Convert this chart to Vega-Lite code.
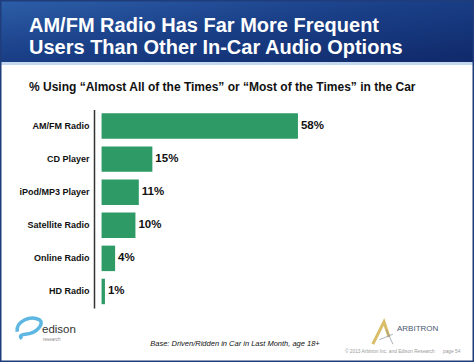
{
  "$schema": "https://vega.github.io/schema/vega-lite/v6.json",
  "width": 474,
  "height": 362,
  "autosize": {"type": "none"},
  "padding": 0,
  "background": "white",
  "config": {"view": {"stroke": null}, "font": "Liberation Sans"},
  "title": {
    "text": ["AM/FM Radio Has Far More Frequent", "Users Than Other In-Car Audio Options"],
    "subtitle": "% Using “Almost All of the Times” or “Most of the Times” in the Car",
    "anchor": "start",
    "frame": "group",
    "orient": "top",
    "offset": -94,
    "dx": 29,
    "font": "Liberation Sans",
    "fontSize": 20,
    "fontWeight": "bold",
    "color": "white",
    "lineHeight": 21.5,
    "subtitleFont": "Liberation Sans",
    "subtitleFontSize": 12,
    "subtitleFontWeight": "bold",
    "subtitleColor": "#111111",
    "subtitlePadding": 24
  },
  "datasets": {
    "usage": [
      {"option": "AM/FM Radio", "share": 0.58},
      {"option": "CD Player", "share": 0.15},
      {"option": "iPod/MP3 Player", "share": 0.11},
      {"option": "Satellite Radio", "share": 0.10},
      {"option": "Online Radio", "share": 0.04},
      {"option": "HD Radio", "share": 0.01}
    ],
    "one": [{"k": 1}]
  },
  "layer": [
    {
      "data": {"name": "one"},
      "mark": {"type": "rect", "color": {"gradient": "linear", "x1": 0, "y1": 0, "x2": 1, "y2": 1, "stops": [{"offset": 0, "color": "#2d5ea8"}, {"offset": 0.45, "color": "#1a4088"}, {"offset": 1, "color": "#10296a"}]}},
      "encoding": {"x": {"value": 0}, "x2": {"value": "width"}, "y": {"value": 0}, "y2": {"value": 62}}
    },
    {
      "data": {"name": "one"},
      "mark": {"type": "rect", "color": "#c3d7ef"},
      "encoding": {"x": {"value": 0}, "x2": {"value": "width"}, "y": {"value": 62}, "y2": {"value": 65}}
    },
    {
      "data": {"name": "one"},
      "mark": {"type": "rect", "fill": null, "filled": false, "stroke": "#1f3d7a", "strokeWidth": 3},
      "encoding": {"x": {"value": 0}, "x2": {"value": "width"}, "y": {"value": 0}, "y2": {"value": "height"}}
    },
    {
      "data": {"name": "usage"},
      "mark": {"type": "bar", "color": "#2e9a66"},
      "encoding": {
        "y": {
          "field": "option", "type": "nominal", "sort": null,
          "scale": {"range": [109.5, 308], "paddingInner": 0.23, "paddingOuter": 0.115},
          "axis": {"orient": "left", "offset": -94, "title": null, "ticks": false, "domainColor": "#333333", "domainWidth": 1.5, "labelFont": "Liberation Sans", "labelFontWeight": "bold", "labelFontSize": 9, "labelColor": "#111111", "labelPadding": 5}
        },
        "x": {"field": "share", "type": "quantitative", "scale": {"domain": [-0.2712, 1.0964]}, "axis": null},
        "x2": {"datum": 0}
      }
    },
    {
      "data": {"name": "usage"},
      "mark": {"type": "text", "align": "left", "baseline": "middle", "dx": 3, "font": "Liberation Sans", "fontWeight": "bold", "fontSize": 11.5, "color": "#111111"},
      "encoding": {
        "y": {"field": "option", "type": "nominal", "sort": null},
        "x": {"field": "share", "type": "quantitative"},
        "text": {"field": "share", "type": "quantitative", "format": ".0%"}
      }
    },
    {
      "data": {"name": "one"},
      "mark": {"type": "text", "text": "Base: Driven/Ridden in Car in Last Month, age 18+", "align": "center", "baseline": "middle", "font": "Liberation Sans", "fontStyle": "italic", "fontSize": 7.5, "color": "#111111"},
      "encoding": {"x": {"value": 235}, "y": {"value": 344}}
    },
    {
      "data": {"name": "one"},
      "mark": {"type": "text", "text": "© 2013 Arbitron Inc. and Edison Research", "align": "left", "baseline": "middle", "font": "Liberation Sans", "fontSize": 4.8, "color": "#9a9a9a"},
      "encoding": {"x": {"value": 345}, "y": {"value": 352}}
    },
    {
      "data": {"name": "one"},
      "mark": {"type": "text", "text": "page 54", "align": "left", "baseline": "middle", "font": "Liberation Sans", "fontSize": 4.8, "color": "#9a9a9a"},
      "encoding": {"x": {"value": 443}, "y": {"value": 352}}
    },
    {
      "data": {"name": "one"},
      "mark": {"type": "text", "text": "edison", "align": "left", "baseline": "alphabetic", "font": "Liberation Sans", "fontSize": 11.5, "color": "#333333"},
      "encoding": {"x": {"value": 42}, "y": {"value": 333}}
    },
    {
      "data": {"name": "one"},
      "mark": {"type": "text", "text": "research", "align": "left", "baseline": "top", "font": "Liberation Sans", "fontSize": 4.5, "letterSpacing": 0.6, "color": "#8a8a8a"},
      "encoding": {"x": {"value": 43}, "y": {"value": 337}}
    },
    {
      "data": {"name": "one"},
      "mark": {"type": "point", "shape": "M -1 0.4 C -1.1 -0.5 0.1 -1 0.9 -0.6 C 1.3 -0.3 0.7 0.5 -0.2 0.6 C -0.6 0.65 -0.9 0.7 -0.6 1", "filled": false, "stroke": "#1a9ad6", "strokeWidth": 3.5, "size": 560},
      "encoding": {"x": {"value": 29}, "y": {"value": 327}}
    },
    {
      "data": {"name": "one"},
      "mark": {"type": "point", "shape": "M -1 1 L 0 -1 L 0.45 0.35", "filled": false, "stroke": "#c9a227", "strokeWidth": 3, "size": 500},
      "encoding": {"x": {"value": 384}, "y": {"value": 333}}
    },
    {
      "data": {"name": "one"},
      "mark": {"type": "point", "shape": "M 0.2 -0.3 L 0.8 1 M -0.4 0.6 L 0.8 0.1", "filled": false, "stroke": "#8a93a3", "strokeWidth": 1, "size": 500},
      "encoding": {"x": {"value": 384}, "y": {"value": 333}}
    },
    {
      "data": {"name": "one"},
      "mark": {"type": "text", "text": "ARBITRON", "align": "left", "baseline": "middle", "font": "Liberation Sans", "fontSize": 8, "letterSpacing": 2.2, "color": "#4a5870"},
      "encoding": {"x": {"value": 397}, "y": {"value": 329}}
    }
  ]
}
